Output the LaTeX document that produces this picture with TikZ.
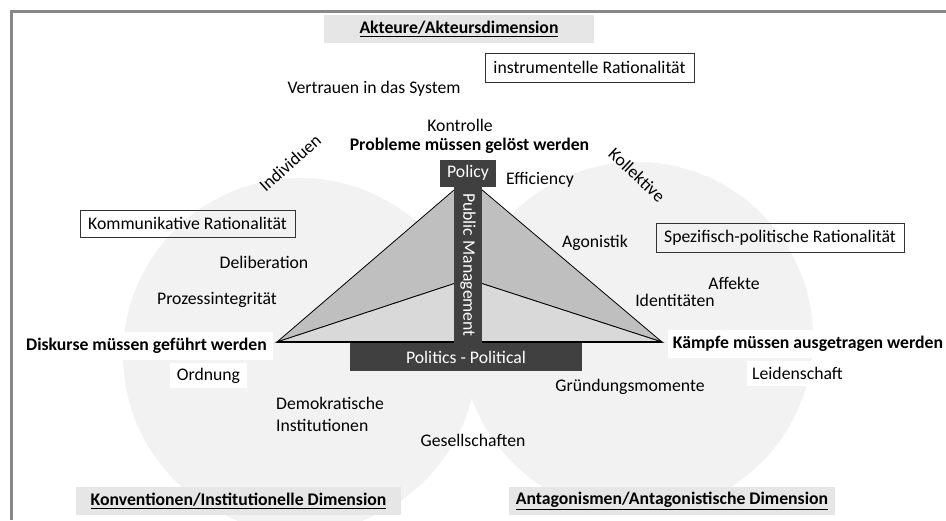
\documentclass[tikz,border=0pt]{standalone}
\usepackage{fontspec}
\setmainfont{Carlito}
\definecolor{circleGray}{HTML}{F2F2F2}
\definecolor{labelGray}{HTML}{E7E6E6}
\definecolor{barGray}{HTML}{404040}
\definecolor{upperGray}{HTML}{BFBFBF}
\definecolor{lowerGray}{HTML}{D9D9D9}
\definecolor{frameGray}{HTML}{888888}
\tikzstyle{txt} = [inner sep = 0pt, text = black, font = \fontsize{17.7}{22}\selectfont]
\tikzstyle{dimension} = [txt, fill = labelGray, minimum height = 28pt, font = \fontsize{17.7}{22}\selectfont\bfseries]
\tikzstyle{rationality} = [txt, draw = black!80, line width = 0.9pt, minimum height = 29pt]
\tikzstyle{thesis} = [txt, fill = white, minimum height = 28pt, font = \fontsize{17.7}{22}\selectfont\bfseries]
\tikzstyle{whiteTxt} = [txt, fill = white, minimum height = 25pt]
\tikzstyle{policyBox} = [txt, fill = barGray, text = white, minimum height = 28pt]

\begin{document}
\begin{tikzpicture}[x = 1pt, y = -1pt]
\useasboundingbox (0,0) rectangle (946,520);
% Kreise
\fill [circleGray] (300,355) circle (177pt);
\fill [circleGray] (637,338) circle (176pt);
\draw [frameGray, line width = 3.5pt] (11.5,520) -- (11.5,11.5) -- (946,11.5);

% Dimensionen
\node (akteure) [dimension, minimum width = 270pt] at (459,29) {\underline{Akteure/Akteursdimension}};
\node (konventionen) [dimension, minimum width = 325pt] at (238.5,501) {\underline{Konventionen/Institutionelle Dimension}};
\node (antagonismen) [dimension, minimum width = 326pt] at (672,501) {\underline{Antagonismen/Antagonistische Dimension}};

% Rationalitaeten
\node (instrumentell) [rationality, minimum width = 209pt] at (589.5,67.5) {instrumentelle Rationalität};
\node (kommunikativ) [rationality, minimum width = 215pt, minimum height = 27pt] at (187.5,223.5) {Kommunikative Rationalität};
\node (spezifisch) [rationality, minimum width = 248pt] at (780,237.5) {Spezifisch-politische Rationalität};

% Dreieck
\coordinate (leftTip) at (277,342);
\coordinate (rightTip) at (662,342);
\coordinate (apex) at (468,178);
\coordinate (innerTip) at (468,279);
\draw [fill = upperGray, line width = 0.8pt] (leftTip) -- (apex) -- (rightTip) -- (innerTip) -- cycle;
\draw [fill = lowerGray, line width = 0.8pt] (leftTip) -- (innerTip) -- (rightTip) -- cycle;
\draw [line width = 1.3pt] (leftTip) -- (rightTip);

\node (publicMgmt) [policyBox, minimum width = 156pt, rotate = -90] at (468,265) {Public Management};
\node (policy) [policyBox, minimum width = 56pt] at (468,173) {Policy};
\node (politics) [policyBox, minimum width = 232pt] at (466,357) {Politics - Political};

% Thesen
\node (probleme) [thesis, minimum width = 255pt] at (469.5,146) {Probleme müssen gelöst werden};
\node (diskurse) [thesis, minimum width = 253pt] at (146.5,346) {Diskurse müssen geführt werden};
\node (kaempfe) [thesis, minimum width = 280pt] at (808,343.5) {Kämpfe müssen ausgetragen werden};

% Begriffe
\node (vertrauen) [txt] at (374,89) {Vertrauen in das System};
\node (kontrolle) [txt] at (460,125) {Kontrolle};
\node (efficiency) [txt] at (540,180) {Efficiency};
\node (individuen) [txt, rotate = 42] at (290,163) {Individuen};
\node (kollektive) [txt, rotate = -43] at (637,175) {Kollektive};
\node (agonistik) [txt] at (595,243) {Agonistik};
\node (deliberation) [txt] at (264,262) {Deliberation};
\node (prozess) [txt] at (217,300) {Prozessintegrität};
\node (ordnung) [whiteTxt, minimum width = 77pt] at (208.5,375.5) {Ordnung};
\node (affekte) [txt] at (734,283) {Affekte};
\node (identitaeten) [txt] at (675,300) {Identitäten};
\node (leidenschaft) [whiteTxt, minimum width = 101pt] at (797.5,373.5) {Leidenschaft};
\node (gruendung) [txt] at (630,387) {Gründungsmomente};
\node (demokratisch) [txt, anchor = west, align = left] at (276,414) {Demokratische\\Institutionen};
\node (gesellschaften) [txt] at (473,440) {Gesellschaften};
\end{tikzpicture}
\end{document}
